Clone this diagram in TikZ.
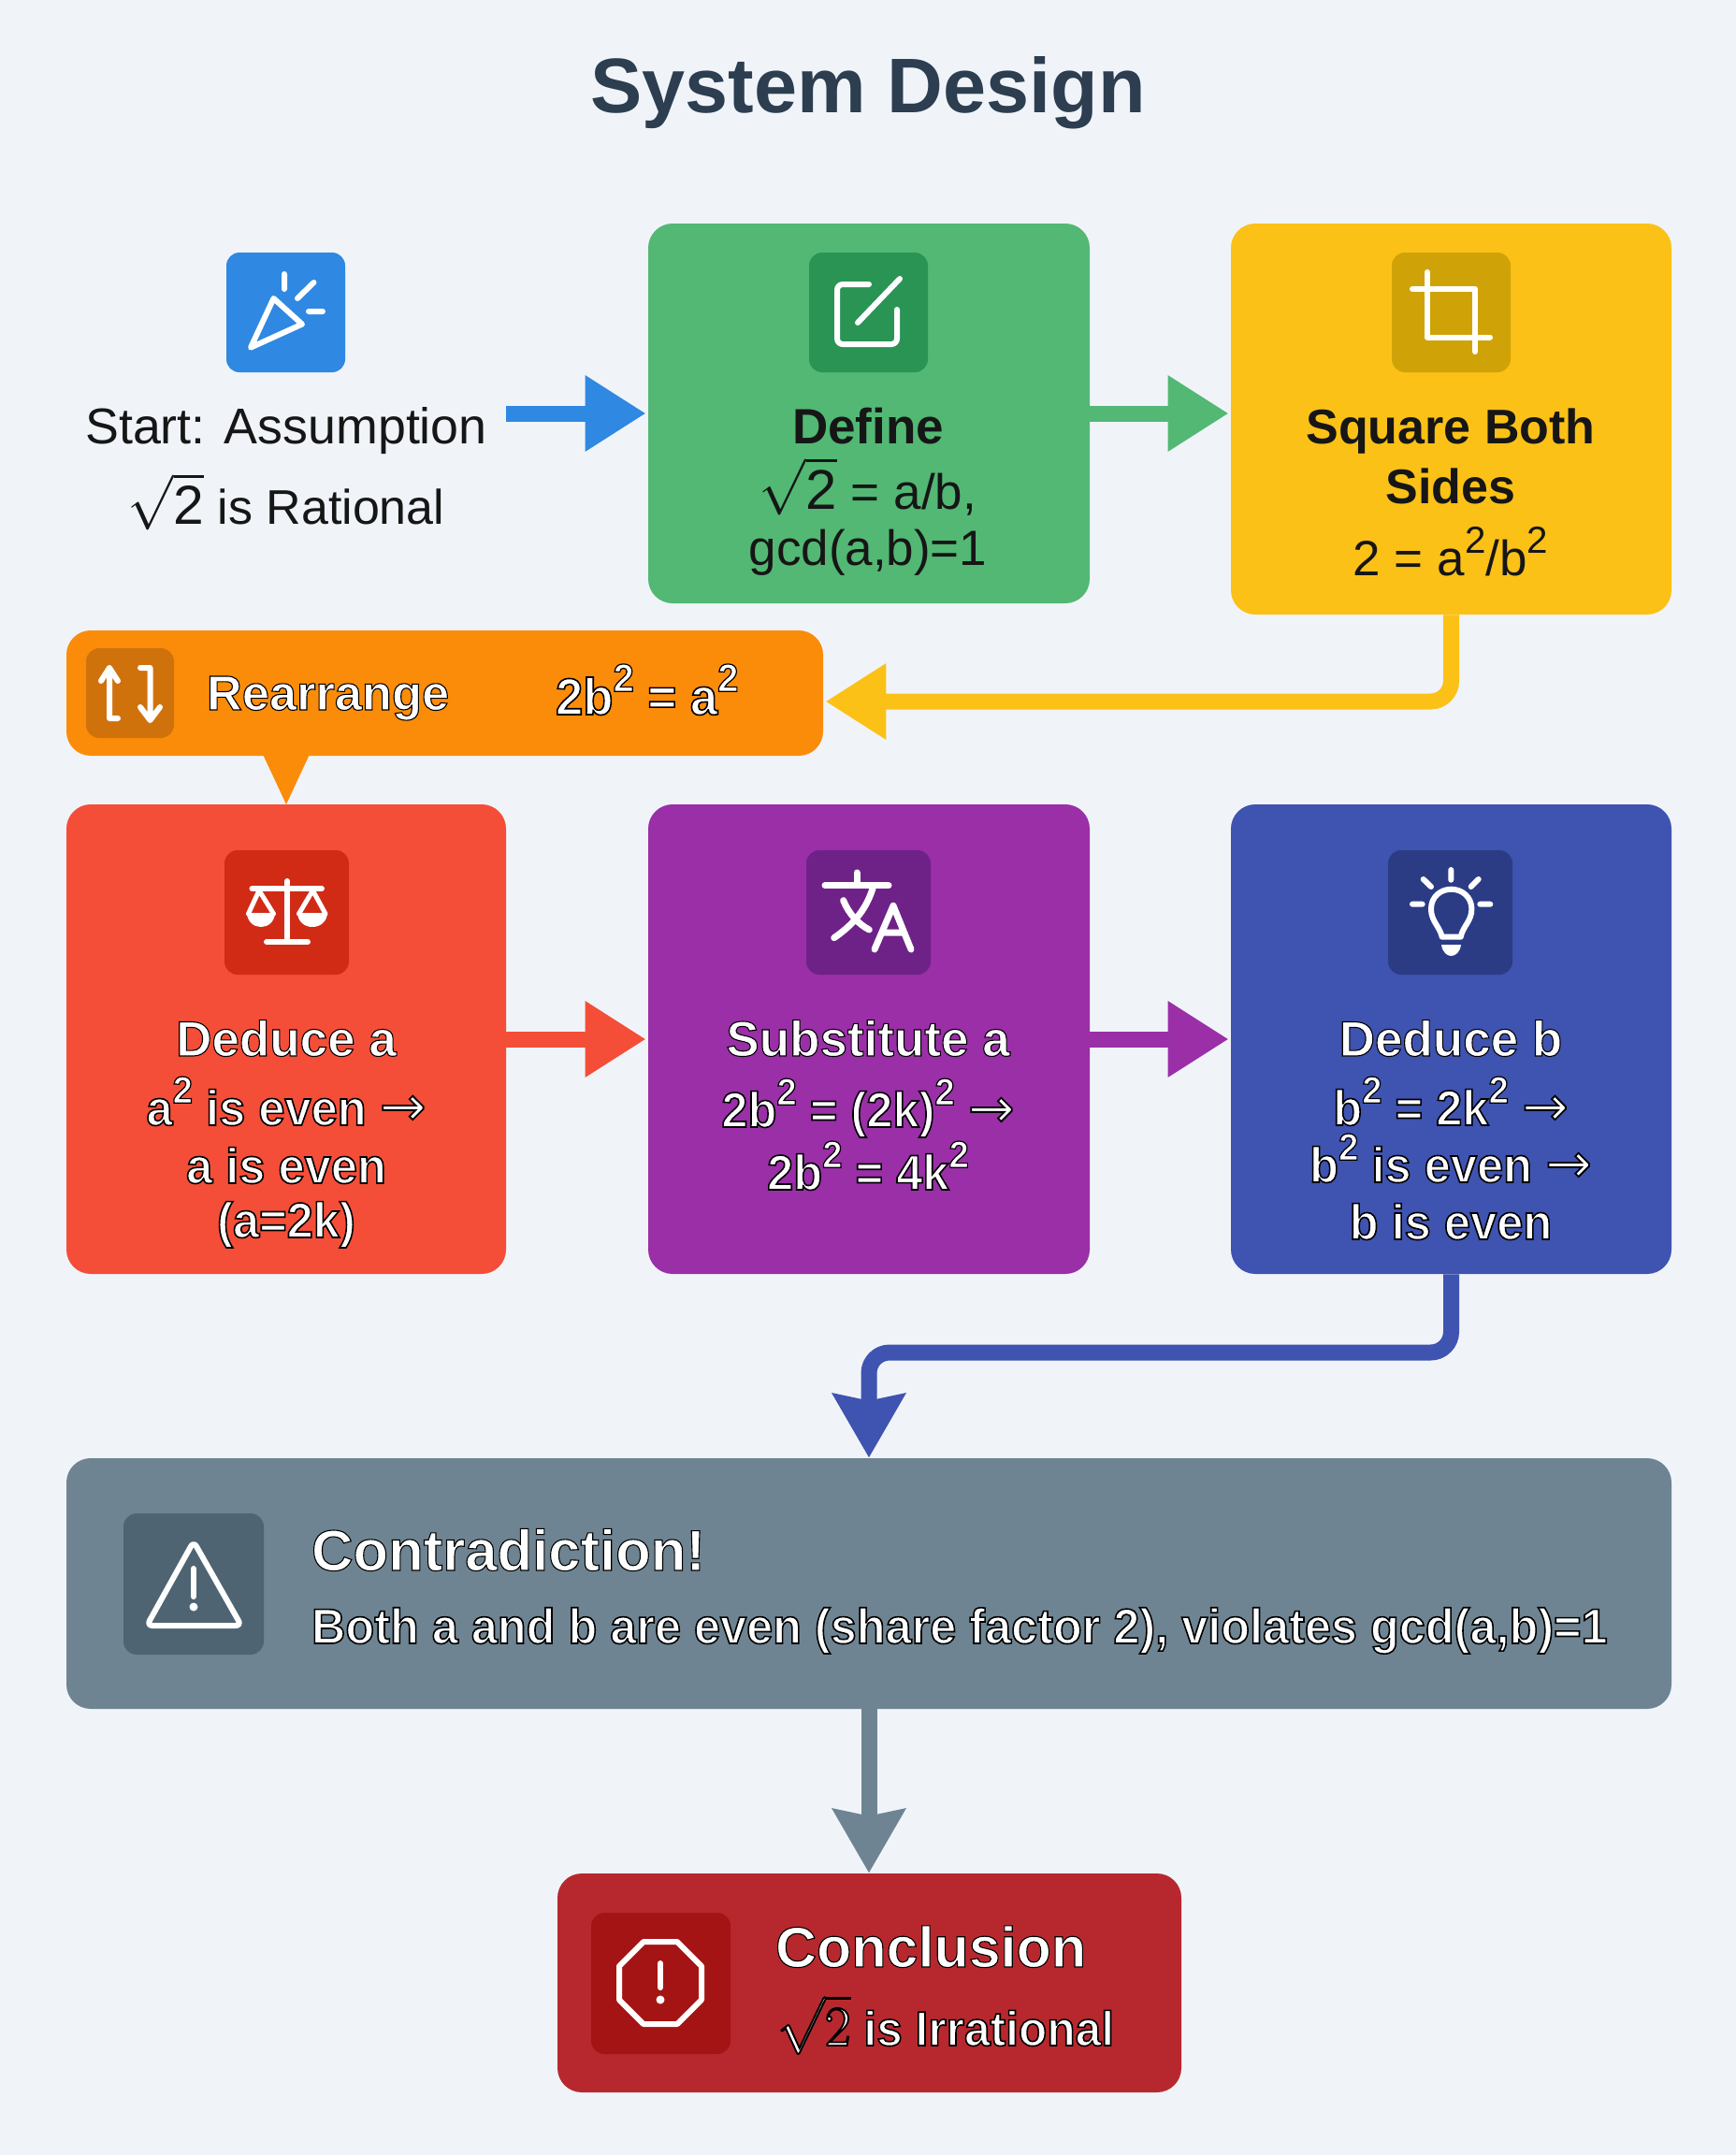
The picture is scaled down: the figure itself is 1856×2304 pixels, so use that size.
\documentclass[tikz,border=0pt]{standalone}
\usepackage{fix-cm}
\usepackage{fontspec}
\setmainfont{Liberation Sans}
\newfontfamily\arrowfont{DejaVu Sans}
\newfontfamily\wbody[FakeStretch=0.955]{Liberation Sans Bold}
\usetikzlibrary{arrows.meta}
\definecolor{bgc}{HTML}{F0F4F9}
\definecolor{titlec}{HTML}{2C3E50}
\definecolor{inkc}{HTML}{161616}
\definecolor{bluec}{HTML}{2F88E2}
\definecolor{greenc}{HTML}{52B874}
\definecolor{greend}{HTML}{2A9455}
\definecolor{yellowc}{HTML}{FBC117}
\definecolor{yellowd}{HTML}{CFA308}
\definecolor{orangec}{HTML}{FB8C0A}
\definecolor{oranged}{HTML}{D0720B}
\definecolor{redc}{HTML}{F44E38}
\definecolor{redd}{HTML}{D12B16}
\definecolor{purplec}{HTML}{9A2FA8}
\definecolor{purpled}{HTML}{6E2287}
\definecolor{indigoc}{HTML}{3F53B0}
\definecolor{indigod}{HTML}{2B3C85}
\definecolor{slatec}{HTML}{6E8492}
\definecolor{slated}{HTML}{4E6472}
\definecolor{crimsonc}{HTML}{B7282E}
\definecolor{crimsond}{HTML}{A51414}
\newcommand\reol{}
\newcommand\pw{\raisebox{.45em}{\scalebox{.76}{2}}\reol}
\newcommand\sqt{\scalebox{1.13}{$\sqrt{\mbox{2}}$}\reol}
\newcommand\arr{{\arrowfont\scalebox{1.12}{→}}\reol}
\newcommand\olx[2]{\def\reol{\special{pdf:code #1 w 0 0 0 RG}}\special{pdf:code 2 Tr #1 w 0 0 0 RG}#2\special{pdf:code 0 Tr}}
\newcommand\bx[6]{\node[plate,#6,minimum width={(#4-#2)*0.5pt},minimum height={(#5-#3)*0.5pt}] (#1) at ({(#2+#4)/2},{(#3+#5)/2}) {};}
\newcommand\tl[5]{\node[lbl,#4] (#1) at (#2,#3) {#5};}
\newcommand\wl[5]{\node[lbl,text=white,#4] (#1) at (#2,#3) {\wbody\olx{0.8}{#5}};}
\newcommand\wh[5]{\node[lbl,text=white,#4] (#1) at (#2,#3) {\olx{0.55}{#5}};}
\tikzset{
  plate/.style={rectangle,rounded corners=13pt,inner sep=0pt,draw=none},
  small plate/.style={rounded corners=7pt},
  lbl/.style={anchor=base,inner sep=0pt,outer sep=0pt,text=inkc},
  leftlbl/.style={anchor=base west},
  f53/.style={font=\fontsize{26.5}{30}\selectfont},
  b53/.style={font=\fontsize{26.5}{30}\selectfont\bfseries},
  conn/.style={line width=8.5pt,shorten >=1pt,-{Triangle[length=32.5pt,width=38.5pt]}},
  connd/.style={line width=8.5pt,rounded corners=11pt,-{Stealth[length=34pt,width=38pt,inset=3.5pt]}},
  ico/.style={draw=white,line width=3pt,line cap=round,line join=round,fill=none},
}
\begin{document}
\begin{tikzpicture}[x=0.5pt,y=-0.5pt]
\useasboundingbox (0,0) rectangle (1856,2304);
\fill[bgc] (0,0) rectangle (1856,2304);
% title
\node[lbl,text=titlec,font=\fontsize{41.4}{46}\selectfont\bfseries] (title) at (928,120.7) {System Design};
% main boxes
\bx{start}{71}{239}{541}{645}{fill=none}
\bx{define}{693}{239}{1165}{645}{fill=greenc}
\bx{square}{1316}{239}{1787}{657}{fill=yellowc}
\fill[orangec] (278,800) -- (334,800) -- (306,860) -- cycle;
\bx{rearrange}{71}{674}{880}{808}{fill=orangec}
\bx{deducea}{71}{860}{541}{1362}{fill=redc}
\bx{subst}{693}{860}{1165}{1362}{fill=purplec}
\bx{deduceb}{1316}{860}{1787}{1362}{fill=indigoc}
\bx{contra}{71}{1559}{1787}{1827}{fill=slatec}
\bx{concl}{596}{2003}{1263}{2237}{fill=crimsonc}
% icon plates
\bx{istart}{242}{270}{369}{398}{small plate,fill=bluec}
\bx{idefine}{865}{270}{992}{398}{small plate,fill=greend}
\bx{isquare}{1488}{270}{1615}{398}{small plate,fill=yellowd}
\bx{irearr}{92}{693}{186}{789}{small plate,fill=oranged}
\bx{ideducea}{240}{909}{373}{1042}{small plate,fill=redd}
\bx{isubst}{862}{909}{995}{1042}{small plate,fill=purpled}
\bx{ideduceb}{1484}{909}{1617}{1042}{small plate,fill=indigod}
\bx{icontra}{132}{1618}{282}{1769}{small plate,fill=slated}
\bx{iconcl}{632}{2045}{781}{2196}{small plate,fill=crimsond}
% icons
\draw[ico] (292.5,319) -- (323,346.6) -- (268,371.6) -- cycle;
\draw[ico] (304,293) -- (304,309) (335.5,302) -- (318,319) (330,333) -- (345,333);
\draw[ico,rounded corners=3pt] (929,304) -- (895,304) -- (895,368) -- (959,368) -- (959,331);
\draw[ico] (962,298) -- (917,345);
\draw[ico] (1526,291) -- (1526,360.5) -- (1593,360.5);
\draw[ico] (1510,309) -- (1577,309) -- (1577,376);
\draw[ico] (117,768) -- (117,714) (108,728) -- (117,714) -- (126,728) (117,768) -- (126,768);
\draw[ico] (150,714) -- (160.5,714) -- (160.5,770) (150,756) -- (160.5,770) -- (171,756);
% scales icon
\draw[ico] (307,942) -- (307,1007) (285,1007) -- (329,1007) (269.5,950) -- (344,950);
\draw[ico,line width=2.5pt] (265.5,977) -- (277,952) -- (292.5,977) (319.5,977) -- (334.4,952) -- (348,977);
\fill[white] (264,976) -- (294,976) .. controls (293,996) and (265,996) .. (264,976);
\fill[white] (318,976) -- (350,976) .. controls (349,996) and (319,996) .. (318,976);
% translate icon
\draw[ico,line width=3.5pt] (882,946.7) -- (950,946.7) (916,933) -- (916,945);
\draw[ico,line width=3.5pt] (933,950) .. controls (925,975) and (910,990) .. (891.7,1002.7);
\draw[ico,line width=3.5pt] (901.7,962.7) .. controls (908,978) and (918,988) .. (929.3,994);
\draw[ico,line width=3.5pt] (935,1015) -- (955,968.3) -- (974,1015) (943,997) -- (967,997);
% bulb icon
\draw[ico] (1551.3,930) -- (1551.3,940.7) (1521.7,940) -- (1530,948) (1580.7,940) -- (1572.7,948) (1510,966.7) -- (1520.7,966.7) (1582.3,966.7) -- (1593.3,966.7);
\draw[ico] (1541.7,1001.7) .. controls (1539,990) and (1530,985) .. (1530,971.7) .. controls (1530,959) and (1540,950.7) .. (1551.7,950.7) .. controls (1563,950.7) and (1573.4,959) .. (1573.4,971.7) .. controls (1573.4,985) and (1564,990) .. (1561.7,1001.7) -- cycle;
\fill[white] (1541,1010) -- (1562,1010) .. controls (1561,1018) and (1556,1022) .. (1551.5,1022) .. controls (1547,1022) and (1542,1018) .. (1541,1010);
% warning icon
\draw[ico,rounded corners=3pt] (207,1648) -- (157,1738) -- (258,1738) -- cycle;
\draw[ico] (207,1677) -- (207,1707);
\fill[white] (207,1718) circle[radius=4.5];
% octagon icon
\draw[ico] (688,2076) -- (724,2076) -- (750,2102) -- (750,2138) -- (724,2164) -- (688,2164) -- (662,2138) -- (662,2102) -- cycle;
\draw[ico] (706,2099) -- (706,2125);
\fill[white] (706,2138) circle[radius=4.5];
% texts
\tl{t1a}{306}{474}{font=\fontsize{26.9}{30}\selectfont}{Start: Assumption}
\tl{t1b}{306}{560}{font=\fontsize{26}{30}\selectfont}{\sqt{} is Rational}
\tl{t2a}{928}{474}{b53}{Define}
\tl{t2b}{928}{544}{f53}{\sqt{} = a/b,}
\tl{t2c}{928}{604}{f53}{gcd(a,b)=1}
\tl{t3a}{1551}{474}{font=\fontsize{26}{30}\selectfont\bfseries}{Square Both}
\tl{t3b}{1551}{538}{font=\fontsize{26}{30}\selectfont\bfseries}{Sides}
\tl{t3c}{1551}{615}{f53}{2 = a\pw/b\pw}
\wh{t4a}{221}{759}{leftlbl,font=\fontsize{26.2}{30}\selectfont\bfseries}{Rearrange}
\wl{t4b}{594}{764}{leftlbl,font=\fontsize{27.6}{30}\selectfont}{2b\pw{} = a\pw}
\wh{t5a}{306}{1129}{b53}{Deduce a}
\wl{t5b}{306}{1203}{f53}{a\pw{} is even \arr}
\wl{t5c}{306}{1265}{f53}{a is even}
\wl{t5d}{306}{1323}{f53}{(a=2k)}
\wh{t6a}{928}{1129}{b53}{Substitute a}
\wl{t6b}{928}{1205}{f53}{2b\pw{} = (2k)\pw{} \arr}
\wl{t6c}{928}{1272}{f53}{2b\pw{} = 4k\pw}
\wh{t7a}{1551}{1129}{b53}{Deduce b}
\wl{t7b}{1551}{1203}{f53}{b\pw{} = 2k\pw{} \arr}
\wl{t7c}{1551}{1264}{f53}{b\pw{} is even \arr}
\wl{t7d}{1551}{1325}{f53}{b is even}
\wh{t8a}{333}{1679}{leftlbl,font=\fontsize{30.8}{34}\selectfont\bfseries}{Contradiction!}
\wl{t8b}{333}{1757}{leftlbl,font=\fontsize{26.4}{30}\selectfont}{Both a and b are even (share factor 2), violates gcd(a,b)=1}
\wh{t9a}{829}{2103}{leftlbl,font=\fontsize{30.5}{34}\selectfont\bfseries}{Conclusion}
\wl{t9b}{831}{2187}{leftlbl,font=\fontsize{26}{30}\selectfont}{\scalebox{1.17}{$\sqrt{2}$}\reol{} is Irrational}
% connectors
\coordinate (bendb) at (1200,1446);
\draw[conn,bluec] (start.east) -- (define.west);
\draw[conn,greenc] (define.east) -- (define.east -| square.west);
\draw[conn,yellowc,rounded corners=11pt] (square.south) |- ([yshift=-4.5pt]rearrange.east);
\draw[conn,redc] (deducea.east) -- (subst.west);
\draw[conn,purplec] (subst.east) -- (deduceb.west);
\draw[connd,indigoc] (deduceb.south) |- (bendb) -| (contra.north);
\draw[connd,slatec] (contra.south) -- (contra.south |- concl.north);
\end{tikzpicture}
\end{document}
